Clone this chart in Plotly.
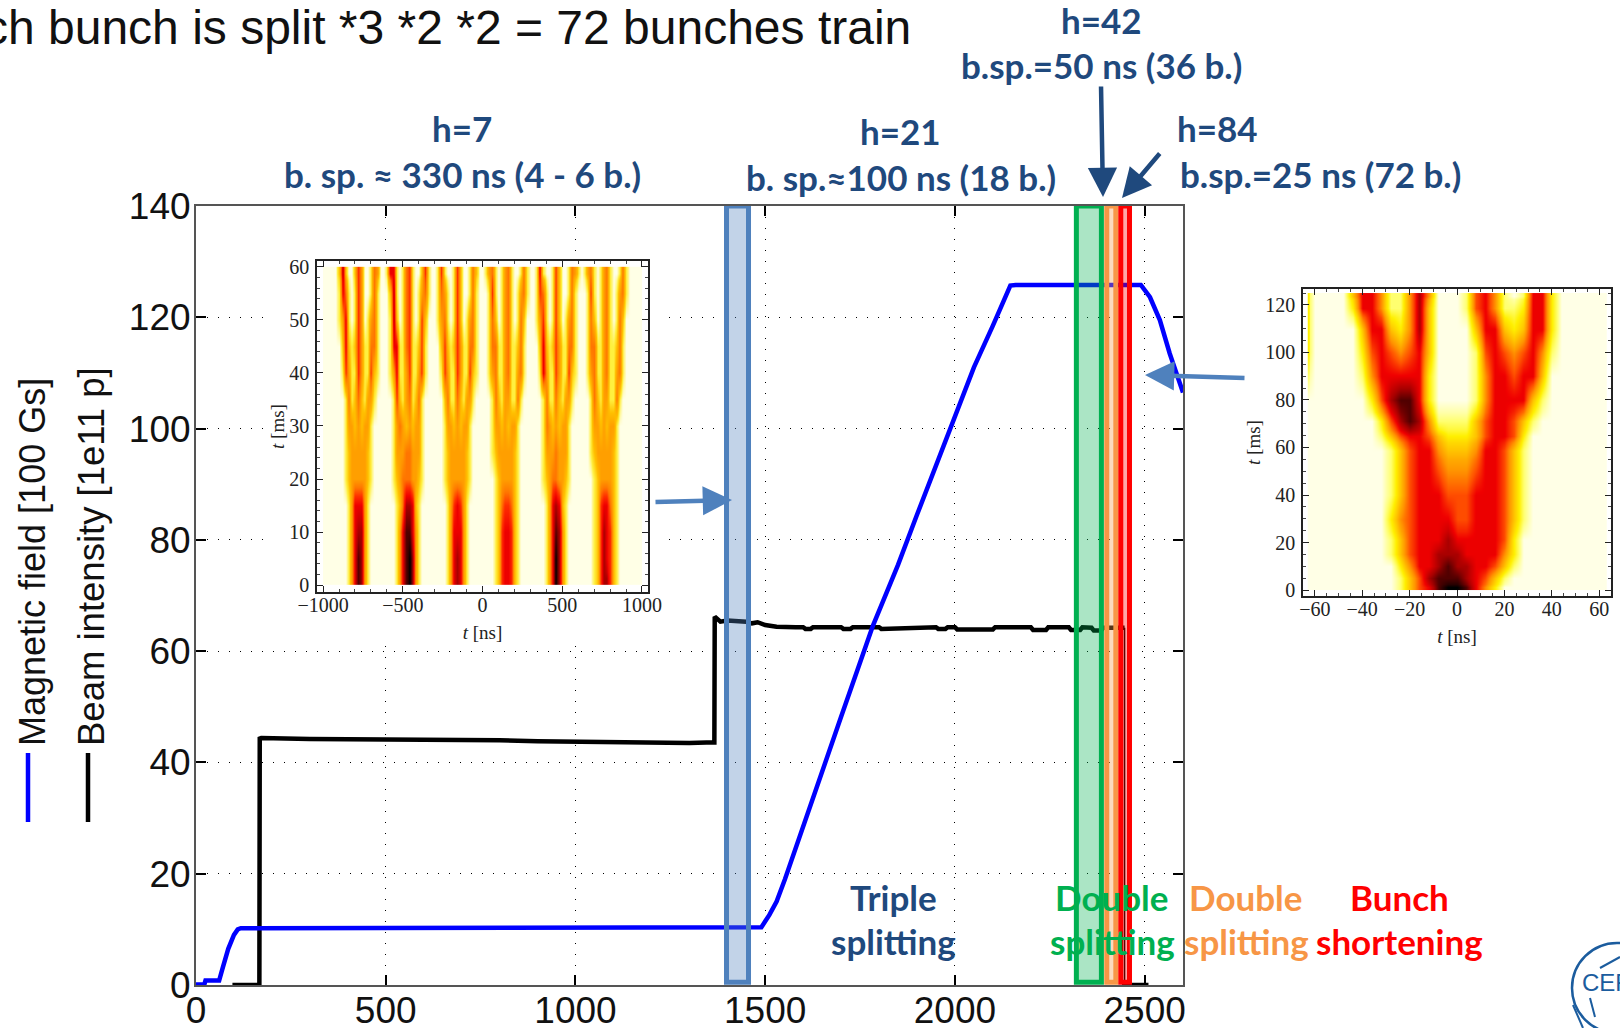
import numpy as np
import plotly.graph_objects as go

W, H = 1620, 1028
def px(x): return x / W
def py(y): return 1 - y / H

# ---- main chart series
field_x = [0, 22, 25, 61, 70, 85, 100, 110, 118, 1476, 1490, 1511, 1530, 1552, 1600, 1650, 1700, 1784, 1850, 1900, 1950, 2000, 2050, 2100, 2146, 2160, 2300, 2490, 2514, 2540, 2566, 2585, 2601]
field_y = [0.1, 0.1, 0.8, 0.8, 3, 6.5, 9, 10, 10.2, 10.2, 10.4, 12.6, 15, 19, 28.6, 38.4, 48.2, 64.6, 75.5, 84.5, 93.5, 102.5, 111, 118.5, 125.7, 125.8, 125.8, 125.8, 123.6, 119.5, 113.5, 109.5, 106.5]
beam_x = [96, 167, 168, 172, 300, 420, 560, 700, 800, 900, 1000, 1100, 1200, 1250, 1300, 1345, 1366, 1367, 1375, 1382, 1400, 1430, 1450, 1465, 1480, 1500, 1530, 1580, 1600, 1606, 1620, 1626, 1700, 1706, 1725, 1731, 1800, 1806, 1900, 1950, 1956, 1975, 1981, 2000, 2006, 2100, 2106, 2200, 2206, 2240, 2246, 2300, 2306, 2330, 2336, 2360, 2366, 2385, 2391, 2447]
beam_y = [0, 0, 44.3, 44.4, 44.2, 44.2, 44.1, 44.0, 44.0, 43.8, 43.7, 43.7, 43.6, 43.5, 43.5, 43.6, 43.6, 66.2, 65.6, 65.3, 65.5, 65.4, 65.3, 65.0, 65.2, 64.7, 64.4, 64.3, 64.3, 64.0, 64.0, 64.3, 64.3, 64.0, 64.0, 64.3, 64.3, 64.0, 64.3, 64.3, 64.0, 64.0, 64.3, 64.3, 63.9, 63.9, 64.3, 64.3, 63.8, 63.8, 64.3, 64.3, 63.8, 63.8, 64.3, 64.2, 63.7, 63.7, 64.2, 64.2]
beam_drop_x = [2447, 2447]
beam_drop_y = [64.2, 0]
beam_tail_x = [2440, 2510]
beam_tail_y = [0, 0]

rect_x0 = [1398, 2320, 2400, 2437]
rect_x1 = [1456, 2386, 2424, 2460]
rect_line = ["#4F81BD", "#00B050", "#F79646", "#FF0000"]
rect_fill = ["rgba(79,129,189,0.35)", "rgba(0,176,80,0.33)", "rgba(247,150,70,0.35)", "rgba(255,0,0,0.35)"]

# ---- left inset: intensity digits 0-9, as (first column, digits) runs; cell edges 20 ns wide, rows 5 ms
inset1_x_edges = [-1000] + list(range(-990, 991, 20)) + [1000]
inset1_t_edges = [0, 2.5, 7.5, 12.5, 17.5, 22.5, 27.5, 32.5, 37.5, 42.5, 47.5, 52.5, 57.5, 60]
inset1_runs = [
    [(8, "1368731"), (23, "13689731"), (39, "1367631"), (54, "12566521"), (70, "1369731"), (85, "12577521")],
    [(8, "1368731"), (23, "13689731"), (39, "1367631"), (54, "12566521"), (70, "1369731"), (85, "12576521")],
    [(8, "1367731"), (23, "13688631"), (39, "1366631"), (54, "12566521"), (70, "1368731"), (85, "12576521")],
    [(8, "1366631"), (23, "12477621"), (39, "1356531"), (54, "12455421"), (70, "1367621"), (85, "12566421")],
    [(7, "123333321"), (22, "1234443321"), (38, "123333321"), (54, "12333321"), (69, "123443321"), (85, "12333321")],
    [(7, "123333321"), (22, "1333443331"), (38, "123333321"), (53, "123333321"), (69, "133343331"), (84, "123333321")],
    [(7, "133232331"), (22, "1343232331"), (38, "133232331"), (53, "133232331"), (69, "143232331"), (84, "133232331")],
    [(7, "1412421331"), (22, "1521341241"), (38, "2411421331"), (53, "1421331141"), (69, "1411421331"), (84, "1421331141")],
    [(6, "153115311521"), (21, "136113511351"), (37, "153115311521"), (52, "134113411341"), (68, "163115311521"), (83, "134113411341")],
    [(6, "262125311441"), (21, "166114511251"), (37, "252125311441"), (52, "144113411241"), (68, "262125311441"), (83, "144113411241")],
    [(5, "1361"), (10, "153"), (14, "1341"), (21, "172"), (25, "1451"), (30, "152"), (36, "1341"), (41, "152"), (45, "1341"), (52, "142"), (56, "1341"), (61, "142"), (67, "1351"), (72, "152"), (76, "1341"), (83, "142"), (87, "1341"), (92, "142")],
    [(5, "1641"), (10, "153"), (15, "141"), (21, "271"), (25, "1451"), (30, "1341"), (36, "1431"), (41, "152"), (46, "141"), (52, "151"), (56, "1341"), (61, "1341"), (67, "1541"), (72, "152"), (77, "141"), (83, "151"), (87, "1341"), (92, "1341")],
    [(5, "272"), (10, "253"), (15, "143"), (20, "1661"), (25, "1451"), (31, "251"), (36, "151"), (41, "152"), (46, "142"), (51, "1341"), (56, "1341"), (62, "141"), (67, "161"), (72, "152"), (77, "1431"), (82, "1341"), (87, "1341"), (93, "141")],
]

# ---- right inset: cells 4 ns wide
inset2_x_edges = [-63] + list(range(-62, 63, 4)) + [63]
inset2_t_edges = [0, 2.5, 7.5, 12.5, 17.5, 25, 35, 45, 55, 62.5, 67.5, 75, 85, 95, 105, 115, 122.5, 125]
inset2_runs = [
    [(10, "13568998642")],
    [(10, "135788876531")],
    [(10, "2466787766531")],
    [(9, "13566777666642")],
    [(9, "13566676666652")],
    [(9, "245666655666531")],
    [(9, "135666555666531")],
    [(9, "135665444566531")],
    [(9, "135664333466531")],
    [(8, "1356653222356652")],
    [(8, "25787411113566531")],
    [(7, "2578862000014666631")],
    [(0, "1"), (6, "14666662"), (18, "14665663")],
    [(0, "2"), (6, "25654563"), (18, "156545641")],
    [(0, "2"), (6, "36632473"), (18, "366323662")],
    [(0, "2"), (5, "266411473"), (17, "1564112662")],
    [(0, "2"), (5, "366411474"), (17, "1564101662")],
]

def build_grid(runs, n):
    z = np.zeros((len(runs), n))
    for i, row in enumerate(runs):
        for start, digits in row:
            for k, ch in enumerate(digits):
                z[i, start + k] = int(ch)
    return z

heat1 = [[0, "#FFFFE6"], [0.11, "#FFF040"], [0.22, "#FFC000"], [0.33, "#FFA000"], [0.44, "#FF7800"],
         [0.55, "#FF3000"], [0.66, "#F00000"], [0.78, "#A80000"], [0.89, "#500000"], [1, "#000000"]]
heat2 = [[0, "#FFFFE6"], [0.11, "#FFFF70"], [0.22, "#FFF000"], [0.33, "#FFC400"], [0.44, "#FF9400"],
         [0.55, "#FF5000"], [0.66, "#F00000"], [0.78, "#A80000"], [0.89, "#500000"], [1, "#000000"]]

fig = go.Figure()
black = dict(color="#000000", width=4.5)
fig.add_trace(go.Scatter(x=beam_x, y=beam_y, mode="lines", line=black, hoverinfo="skip", showlegend=False))
fig.add_trace(go.Scatter(x=beam_drop_x, y=beam_drop_y, mode="lines", line=dict(color="#000000", width=1.5), hoverinfo="skip", showlegend=False))
fig.add_trace(go.Scatter(x=beam_tail_x, y=beam_tail_y, mode="lines", line=black, hoverinfo="skip", showlegend=False, cliponaxis=False))
fig.add_trace(go.Scatter(x=field_x, y=field_y, mode="lines", line=dict(color="#0000FF", width=4.5), hoverinfo="skip", showlegend=False))
fig.add_trace(go.Heatmap(x=inset1_x_edges, y=inset1_t_edges, z=build_grid(inset1_runs, len(inset1_x_edges) - 1), xaxis="x2", yaxis="y2",
                         zmin=0, zmax=9, colorscale=heat1, showscale=False, zsmooth="best", hoverinfo="skip"))
fig.add_trace(go.Heatmap(x=inset2_x_edges, y=inset2_t_edges, z=build_grid(inset2_runs, len(inset2_x_edges) - 1), xaxis="x3", yaxis="y3",
                         zmin=0, zmax=9, colorscale=heat2, showscale=False, zsmooth="best", hoverinfo="skip"))

main_font = dict(family="Liberation Sans", size=37, color="#111111")
inset_font = dict(family="Liberation Serif", size=20, color="#222222")
def inset_axis(domain, rng, dtick, minor, title, anchor, standoff, labeloff):
    return dict(domain=domain, range=rng, dtick=dtick, tick0=0, ticks="inside", ticklen=6, tickcolor="#222", automargin=False,
                minor=dict(ticks="inside", ticklen=3, dtick=minor, tickcolor="#444"),
                showline=True, linecolor="#222", linewidth=1.5, mirror="ticks", showgrid=False, zeroline=False,
                tickfont=inset_font, title=dict(text=title, font=dict(family="Liberation Serif", size=19, color="#222"), standoff=standoff),
                anchor=anchor, ticklabelstandoff=labeloff)

grid_style = dict(showgrid=True, gridcolor="#000000", gridwidth=1.3, griddash="1.3px,9.7px", zeroline=False, automargin=False)
shapes = [dict(type="rect", xref="x", yref="y", x0=(264 - 196) / 0.3795, x1=(665 - 196) / 0.3795,
               y0=(985 - 645) / 5.564, y1=(985 - 252) / 5.564, fillcolor="white", line_width=0, layer="between")]
for x0, x1, lc, fc in zip(rect_x0, rect_x1, rect_line, rect_fill):
    shapes.append(dict(type="rect", xref="x", yref="y", x0=x0, x1=x1, y0=0.5, y1=140, fillcolor=fc,
                       line=dict(color=lc, width=5), layer="above"))
# legend strokes beside the rotated labels
for x, c in [(28, "#0000FF"), (88, "#000000")]:
    shapes.append(dict(type="line", xref="paper", yref="paper", x0=px(x), x1=px(x), y0=py(753), y1=py(822),
                       line=dict(color=c, width=4.5)))
# CERN logo outline
logo = "#1B5C9E"
shapes.append(dict(type="circle", xref="paper", yref="paper", x0=px(1572), x1=px(1662), y0=py(1033), y1=py(943),
                   line=dict(color=logo, width=2.5)))
shapes.append(dict(type="line", xref="paper", yref="paper", x0=px(1620), y0=py(957), x1=px(1600), y1=py(968), line=dict(color=logo, width=2)))
shapes.append(dict(type="line", xref="paper", yref="paper", x0=px(1590), y0=py(998), x1=px(1595), y1=py(1017), line=dict(color=logo, width=2)))
shapes.append(dict(type="line", xref="paper", yref="paper", x0=px(1573), y0=py(1005), x1=px(1583), y1=py(1028), line=dict(color=logo, width=2)))

NAVY, GREEN, ORANGE, RED = "#1F497D", "#00B050", "#F79646", "#FF0000"
call_font = "Lato"
callouts = [
    ("h=7", 462, 128, NAVY), ("b. sp. ≈ 330 ns (4 - 6 b.)", 462, 174, NAVY),
    ("h=21", 901, 131, NAVY), ("b. sp.≈100 ns (18 b.)", 901, 177, NAVY),
    ("h=42", 1101, 20, NAVY), ("b.sp.=50 ns (36 b.)", 1101, 65, NAVY),
    ("h=84", 1217, 128, NAVY), ("b.sp.=25 ns (72 b.)", 1320, 174, NAVY),
    ("Triple", 893, 897, NAVY), ("splitting", 893, 941, NAVY),
    ("Double", 1112, 897, GREEN), ("splitting", 1112, 941, GREEN),
    ("Double", 1246, 897, ORANGE), ("splitting", 1246, 941, ORANGE),
    ("Bunch", 1399, 897, RED), ("shortening", 1399, 941, RED),
]
ann = [dict(text=f"<b>{t}</b>", x=px(x), y=py(y), xref="paper", yref="paper", showarrow=False,
            font=dict(family=call_font, size=35, color=c), xanchor="center", yanchor="middle") for t, x, y, c in callouts]
ann.append(dict(text="ch bunch is split *3 *2 *2 = 72 bunches train", x=px(913), y=py(27), xref="paper", yref="paper", showarrow=False,
                xanchor="right", yanchor="middle", font=dict(family="Liberation Sans", size=48, color="#111111")))
ann.append(dict(text="Magnetic field [100 Gs]", x=px(32), y=py(562), xref="paper", yref="paper", showarrow=False, textangle=-90,
                xanchor="center", yanchor="middle", font=dict(family="Liberation Sans", size=36, color="#111111")))
ann.append(dict(text="Beam intensity [1e11 p]", x=px(91), y=py(557), xref="paper", yref="paper", showarrow=False, textangle=-90,
                xanchor="center", yanchor="middle", font=dict(family="Liberation Sans", size=36.5, color="#111111")))
ann.append(dict(text="CER", x=px(1580), y=py(982), xref="paper", yref="paper", showarrow=False, xanchor="left", yanchor="middle",
                font=dict(family="Liberation Sans", size=24, color=logo)))
arrows = [(732, 500, 654, 502, "#4F81BD"), (1145, 375, 1246, 378, "#4F81BD"), (1103, 197, 1101, 85, NAVY), (1122, 198, 1161, 152, NAVY)]
for tx, ty, sx, sy, c in arrows:
    ann.append(dict(text="", x=px(tx), y=py(ty), xref="paper", yref="paper", showarrow=True, axref="pixel", ayref="pixel",
                    ax=sx - tx, ay=sy - ty, arrowhead=2, arrowsize=1.3, arrowwidth=4.5, arrowcolor=c))

fig.update_layout(
    width=W, height=H, margin=dict(l=0, r=0, t=0, b=0), autosize=False,
    paper_bgcolor="white", plot_bgcolor="white", showlegend=False,
    xaxis=dict(domain=[px(196), px(1183)], range=[0, 2601], tick0=0, dtick=500, ticks="inside", ticklen=10, tickwidth=1.5,
               tickcolor="#000", showline=True, linecolor="#555", linewidth=2, mirror="ticks", tickfont=main_font, ticklabelstandoff=-8, **grid_style),
    yaxis=dict(domain=[py(985), py(206)], range=[0, 140], tick0=0, dtick=20, ticks="inside", ticklen=10, tickwidth=1.5,
               tickcolor="#000", showline=True, linecolor="#555", linewidth=2, mirror="ticks", tickfont=main_font, ticklabelstandoff=-4, **grid_style),
    xaxis2=inset_axis([px(317), px(648)], [-1038, 1038], 500, 100, "<i>t</i> [ns]", "y2", 11, -6),
    yaxis2=inset_axis([py(592), py(261)], [-1.3, 61.1], 10, 2, "<i>t</i> [ms]", "x2", 0, 2),
    xaxis3=inset_axis([px(1303), px(1611)], [-65, 65], 20, 5, "<i>t</i> [ns]", "y3", 11, -6),
    yaxis3=inset_axis([py(596), py(289)], [-2.5, 126.7], 20, 5, "<i>t</i> [ms]", "x3", 0, 2),
    shapes=shapes, annotations=ann,
)
fig.write_html("out.html", config={"displayModeBar": False},
               post_script="document.body.style.margin='0';document.body.style.overflow='hidden';")
